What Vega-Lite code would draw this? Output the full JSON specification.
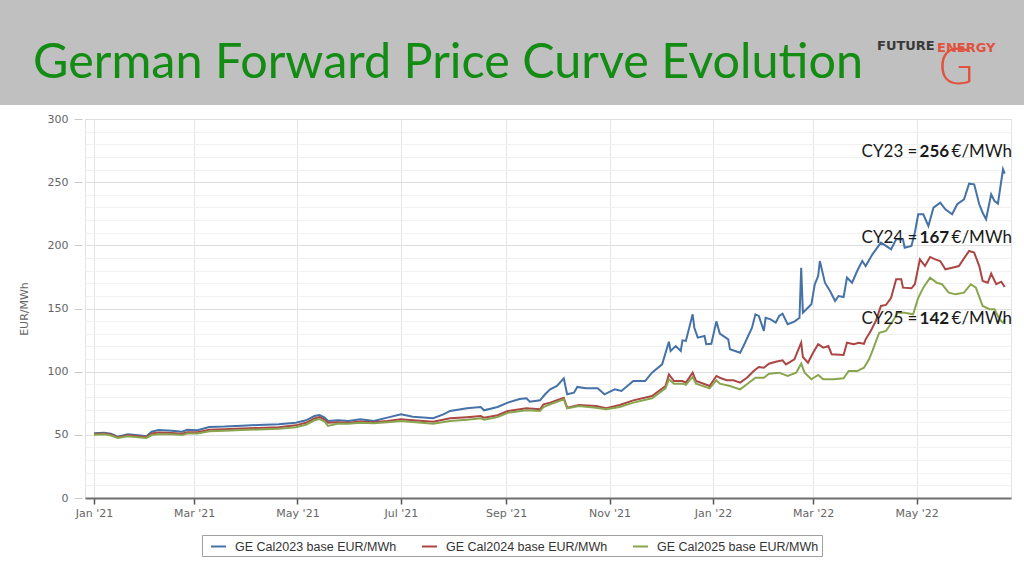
{
  "$schema": "https://vega.github.io/schema/vega-lite/v6.json",
  "background": "white",
  "padding": 0,
  "bounds": "full",
  "align": "none",
  "spacing": 7,
  "config": {"view": {"stroke": null}},
  "datasets": {
    "cal23": [
      {"d":"2021-01-01","v":51.2},{"d":"2021-01-07","v":51.7},{"d":"2021-01-11","v":50.9},{"d":"2021-01-15","v":48.5},{"d":"2021-01-21","v":50.4},{"d":"2021-01-27","v":49.6},
      {"d":"2021-02-01","v":48.8},{"d":"2021-02-04","v":52.5},{"d":"2021-02-08","v":53.8},{"d":"2021-02-16","v":53.3},{"d":"2021-02-22","v":52.5},{"d":"2021-02-25","v":54.0},
      {"d":"2021-03-03","v":53.6},{"d":"2021-03-10","v":56.2},{"d":"2021-03-19","v":56.5},{"d":"2021-03-29","v":57.2},{"d":"2021-04-08","v":57.8},{"d":"2021-04-20","v":58.3},
      {"d":"2021-04-30","v":59.6},{"d":"2021-05-06","v":61.5},{"d":"2021-05-11","v":64.9},{"d":"2021-05-14","v":65.7},{"d":"2021-05-17","v":63.6},{"d":"2021-05-19","v":61.0},
      {"d":"2021-05-25","v":61.5},{"d":"2021-05-31","v":61.0},{"d":"2021-06-07","v":62.3},{"d":"2021-06-15","v":61.0},{"d":"2021-06-23","v":63.6},{"d":"2021-07-01","v":66.2},
      {"d":"2021-07-08","v":64.4},{"d":"2021-07-20","v":63.1},{"d":"2021-07-26","v":66.2},{"d":"2021-07-30","v":68.9},{"d":"2021-08-09","v":71.0},{"d":"2021-08-17","v":72.0},
      {"d":"2021-08-19","v":69.4},{"d":"2021-08-27","v":72.0},{"d":"2021-09-02","v":75.5},{"d":"2021-09-09","v":78.4},{"d":"2021-09-13","v":78.9},{"d":"2021-09-15","v":76.2},
      {"d":"2021-09-21","v":77.3},{"d":"2021-09-24","v":82.1},{"d":"2021-09-27","v":86.0},{"d":"2021-10-01","v":88.7},{"d":"2021-10-05","v":94.7},{"d":"2021-10-07","v":82.1},
      {"d":"2021-10-11","v":83.4},{"d":"2021-10-13","v":87.9},{"d":"2021-10-18","v":86.8},{"d":"2021-10-25","v":86.8},{"d":"2021-10-29","v":82.1},{"d":"2021-11-04","v":86.0},
      {"d":"2021-11-08","v":84.7},{"d":"2021-11-15","v":92.6},{"d":"2021-11-22","v":92.6},{"d":"2021-11-26","v":99.2},{"d":"2021-12-02","v":105.8},{"d":"2021-12-06","v":123.7},
      {"d":"2021-12-07","v":116.4},{"d":"2021-12-10","v":120.3},{"d":"2021-12-13","v":116.4},{"d":"2021-12-14","v":124.8},{"d":"2021-12-16","v":124.3},{"d":"2021-12-20","v":145.4},
      {"d":"2021-12-21","v":134.8},{"d":"2021-12-23","v":126.9},{"d":"2021-12-27","v":128.2},{"d":"2021-12-28","v":121.7},{"d":"2021-12-31","v":122.1},{"d":"2022-01-03","v":139.8},
      {"d":"2022-01-05","v":130.1},{"d":"2022-01-10","v":125.6},{"d":"2022-01-11","v":117.7},{"d":"2022-01-17","v":115.0},{"d":"2022-01-19","v":120.3},{"d":"2022-01-24","v":134.8},
      {"d":"2022-01-26","v":145.4},{"d":"2022-01-28","v":144.1},{"d":"2022-01-31","v":132.2},{"d":"2022-02-01","v":142.7},{"d":"2022-02-04","v":141.4},{"d":"2022-02-07","v":138.8},
      {"d":"2022-02-09","v":144.1},{"d":"2022-02-11","v":145.9},{"d":"2022-02-14","v":137.5},{"d":"2022-02-18","v":139.6},{"d":"2022-02-21","v":142.7},{"d":"2022-02-22","v":182.3},
      {"d":"2022-02-23","v":146.7},{"d":"2022-02-28","v":153.3},{"d":"2022-03-02","v":169.2},{"d":"2022-03-04","v":175.7},{"d":"2022-03-05","v":187.6},{"d":"2022-03-08","v":170.4},
      {"d":"2022-03-11","v":163.9},{"d":"2022-03-14","v":155.9},{"d":"2022-03-16","v":159.9},{"d":"2022-03-19","v":159.1},{"d":"2022-03-21","v":174.4},{"d":"2022-03-24","v":170.4},
      {"d":"2022-03-27","v":179.7},{"d":"2022-03-30","v":187.6},{"d":"2022-04-01","v":183.6},{"d":"2022-04-05","v":192.9},{"d":"2022-04-10","v":202.1},{"d":"2022-04-13","v":199.5},
      {"d":"2022-04-16","v":196.9},{"d":"2022-04-19","v":204.8},{"d":"2022-04-23","v":204.8},{"d":"2022-04-24","v":198.1},{"d":"2022-04-28","v":199.5},{"d":"2022-04-30","v":210.0},
      {"d":"2022-05-02","v":224.6},{"d":"2022-05-05","v":224.6},{"d":"2022-05-08","v":215.3},{"d":"2022-05-11","v":229.8},{"d":"2022-05-15","v":233.8},{"d":"2022-05-18","v":228.5},
      {"d":"2022-05-22","v":224.6},{"d":"2022-05-25","v":232.5},{"d":"2022-05-29","v":236.4},{"d":"2022-06-01","v":248.8},{"d":"2022-06-04","v":248.3},{"d":"2022-06-07","v":232.5},
      {"d":"2022-06-09","v":225.8},{"d":"2022-06-11","v":220.6},{"d":"2022-06-14","v":240.4},{"d":"2022-06-16","v":235.1},{"d":"2022-06-18","v":233.0},{"d":"2022-06-21","v":260.2},
      {"d":"2022-06-22","v":256.7}
    ],
    "cal24": [
      {"d":"2021-01-01","v":50.6},{"d":"2021-01-07","v":51.0},{"d":"2021-01-11","v":50.3},{"d":"2021-01-15","v":48.0},{"d":"2021-01-21","v":49.6},{"d":"2021-01-27","v":48.8},
      {"d":"2021-02-01","v":48.2},{"d":"2021-02-04","v":51.0},{"d":"2021-02-08","v":51.8},{"d":"2021-02-16","v":51.5},{"d":"2021-02-22","v":50.8},{"d":"2021-02-25","v":52.0},
      {"d":"2021-03-03","v":52.0},{"d":"2021-03-10","v":54.0},{"d":"2021-03-19","v":54.5},{"d":"2021-03-29","v":55.0},{"d":"2021-04-08","v":55.5},{"d":"2021-04-20","v":56.0},
      {"d":"2021-04-30","v":57.5},{"d":"2021-05-06","v":59.5},{"d":"2021-05-11","v":63.0},{"d":"2021-05-14","v":64.0},{"d":"2021-05-17","v":62.0},{"d":"2021-05-19","v":59.5},
      {"d":"2021-05-25","v":60.0},{"d":"2021-05-31","v":59.5},{"d":"2021-06-07","v":60.5},{"d":"2021-06-15","v":60.0},{"d":"2021-06-23","v":61.0},{"d":"2021-07-01","v":62.3},
      {"d":"2021-07-08","v":61.5},{"d":"2021-07-20","v":60.4},{"d":"2021-07-30","v":63.1},{"d":"2021-08-09","v":64.0},{"d":"2021-08-17","v":64.9},{"d":"2021-08-19","v":63.6},
      {"d":"2021-08-27","v":65.5},{"d":"2021-09-02","v":68.9},{"d":"2021-09-13","v":71.0},{"d":"2021-09-21","v":70.2},{"d":"2021-09-23","v":74.2},{"d":"2021-09-27","v":75.5},
      {"d":"2021-10-05","v":79.4},{"d":"2021-10-07","v":71.5},{"d":"2021-10-14","v":73.6},{"d":"2021-10-24","v":72.8},{"d":"2021-10-30","v":71.0},{"d":"2021-11-07","v":73.6},
      {"d":"2021-11-15","v":77.3},{"d":"2021-11-26","v":80.7},{"d":"2021-12-04","v":88.7},{"d":"2021-12-06","v":97.9},{"d":"2021-12-09","v":92.6},{"d":"2021-12-14","v":92.6},
      {"d":"2021-12-16","v":91.3},{"d":"2021-12-20","v":99.2},{"d":"2021-12-22","v":92.6},{"d":"2021-12-30","v":88.7},{"d":"2022-01-03","v":96.6},{"d":"2022-01-05","v":95.2},
      {"d":"2022-01-09","v":93.2},{"d":"2022-01-13","v":93.2},{"d":"2022-01-17","v":91.3},{"d":"2022-01-21","v":95.2},{"d":"2022-01-25","v":100.5},{"d":"2022-01-28","v":103.7},
      {"d":"2022-01-31","v":103.1},{"d":"2022-02-03","v":106.3},{"d":"2022-02-07","v":107.9},{"d":"2022-02-11","v":109.0},{"d":"2022-02-13","v":105.8},{"d":"2022-02-18","v":109.8},
      {"d":"2022-02-20","v":116.4},{"d":"2022-02-22","v":122.9},{"d":"2022-02-23","v":111.6},{"d":"2022-02-26","v":107.1},{"d":"2022-03-01","v":115.0},{"d":"2022-03-04","v":121.7},
      {"d":"2022-03-07","v":119.0},{"d":"2022-03-10","v":120.3},{"d":"2022-03-12","v":113.7},{"d":"2022-03-19","v":113.2},{"d":"2022-03-21","v":122.9},{"d":"2022-03-25","v":121.7},
      {"d":"2022-03-28","v":122.9},{"d":"2022-03-31","v":122.1},{"d":"2022-04-01","v":125.6},{"d":"2022-04-04","v":132.2},{"d":"2022-04-07","v":140.1},{"d":"2022-04-10","v":152.0},
      {"d":"2022-04-13","v":152.8},{"d":"2022-04-16","v":158.5},{"d":"2022-04-19","v":173.1},{"d":"2022-04-22","v":173.1},{"d":"2022-04-23","v":166.5},{"d":"2022-04-28","v":166.0},
      {"d":"2022-04-30","v":169.2},{"d":"2022-05-03","v":188.9},{"d":"2022-05-06","v":183.6},{"d":"2022-05-09","v":190.8},{"d":"2022-05-12","v":188.9},{"d":"2022-05-15","v":187.6},
      {"d":"2022-05-18","v":181.0},{"d":"2022-05-22","v":182.3},{"d":"2022-05-26","v":183.6},{"d":"2022-05-29","v":189.7},{"d":"2022-06-01","v":195.5},{"d":"2022-06-04","v":194.2},
      {"d":"2022-06-07","v":183.6},{"d":"2022-06-09","v":171.8},{"d":"2022-06-12","v":170.4},{"d":"2022-06-14","v":177.6},{"d":"2022-06-17","v":169.2},{"d":"2022-06-20","v":171.2},
      {"d":"2022-06-22","v":167.0}
    ],
    "cal25": [
      {"d":"2021-01-01","v":50.0},{"d":"2021-01-07","v":50.5},{"d":"2021-01-11","v":49.5},{"d":"2021-01-15","v":47.5},{"d":"2021-01-21","v":48.8},{"d":"2021-01-27","v":48.0},
      {"d":"2021-02-01","v":47.5},{"d":"2021-02-04","v":49.8},{"d":"2021-02-08","v":50.5},{"d":"2021-02-16","v":50.5},{"d":"2021-02-22","v":49.8},{"d":"2021-02-25","v":51.0},
      {"d":"2021-03-03","v":51.0},{"d":"2021-03-10","v":52.8},{"d":"2021-03-19","v":53.2},{"d":"2021-03-29","v":53.8},{"d":"2021-04-08","v":54.2},{"d":"2021-04-20","v":54.8},
      {"d":"2021-04-30","v":56.0},{"d":"2021-05-06","v":58.0},{"d":"2021-05-11","v":61.5},{"d":"2021-05-14","v":62.5},{"d":"2021-05-17","v":60.5},{"d":"2021-05-19","v":57.0},
      {"d":"2021-05-25","v":59.0},{"d":"2021-05-31","v":58.8},{"d":"2021-06-07","v":59.5},{"d":"2021-06-15","v":59.2},{"d":"2021-06-23","v":60.0},{"d":"2021-07-01","v":61.0},
      {"d":"2021-07-08","v":60.2},{"d":"2021-07-20","v":58.8},{"d":"2021-07-30","v":61.0},{"d":"2021-08-09","v":62.0},{"d":"2021-08-17","v":63.1},{"d":"2021-08-19","v":62.0},
      {"d":"2021-08-27","v":64.0},{"d":"2021-09-02","v":67.5},{"d":"2021-09-13","v":69.5},{"d":"2021-09-21","v":68.9},{"d":"2021-09-23","v":72.0},{"d":"2021-09-27","v":74.2},
      {"d":"2021-10-05","v":78.1},{"d":"2021-10-07","v":71.0},{"d":"2021-10-14","v":72.8},{"d":"2021-10-24","v":71.5},{"d":"2021-10-30","v":70.2},{"d":"2021-11-07","v":72.0},
      {"d":"2021-11-15","v":75.5},{"d":"2021-11-26","v":78.9},{"d":"2021-12-04","v":86.8},{"d":"2021-12-06","v":94.0},{"d":"2021-12-09","v":90.5},{"d":"2021-12-14","v":90.5},
      {"d":"2021-12-16","v":89.5},{"d":"2021-12-20","v":95.8},{"d":"2021-12-22","v":90.5},{"d":"2021-12-30","v":86.8},{"d":"2022-01-03","v":93.3},{"d":"2022-01-05","v":90.5},
      {"d":"2022-01-11","v":88.7},{"d":"2022-01-17","v":86.0},{"d":"2022-01-21","v":90.0},{"d":"2022-01-26","v":95.2},{"d":"2022-01-31","v":95.2},{"d":"2022-02-03","v":98.4},
      {"d":"2022-02-09","v":99.2},{"d":"2022-02-14","v":96.6},{"d":"2022-02-19","v":99.2},{"d":"2022-02-22","v":106.3},{"d":"2022-02-24","v":99.2},{"d":"2022-02-28","v":94.0},
      {"d":"2022-03-04","v":97.4},{"d":"2022-03-07","v":94.0},{"d":"2022-03-13","v":94.0},{"d":"2022-03-19","v":94.7},{"d":"2022-03-22","v":100.5},{"d":"2022-03-27","v":100.5},
      {"d":"2022-03-31","v":103.1},{"d":"2022-04-03","v":109.8},{"d":"2022-04-05","v":116.4},{"d":"2022-04-09","v":130.8},{"d":"2022-04-13","v":132.2},{"d":"2022-04-17","v":140.1},
      {"d":"2022-04-20","v":146.7},{"d":"2022-04-24","v":146.7},{"d":"2022-04-29","v":145.4},{"d":"2022-05-02","v":158.5},{"d":"2022-05-05","v":166.5},{"d":"2022-05-09","v":174.4},
      {"d":"2022-05-13","v":170.4},{"d":"2022-05-16","v":169.2},{"d":"2022-05-20","v":162.5},{"d":"2022-05-24","v":161.2},{"d":"2022-05-29","v":162.5},{"d":"2022-06-02","v":169.2},
      {"d":"2022-06-05","v":166.5},{"d":"2022-06-09","v":152.0},{"d":"2022-06-13","v":149.4},{"d":"2022-06-16","v":149.4},{"d":"2022-06-19","v":141.4},{"d":"2022-06-21","v":138.8},
      {"d":"2022-06-22","v":141.4}
    ],
    "notes": [
      {"d":"2022-03-29","v":270,"pre":"CY23 =","num":"256","unit":"€/MWh"},
      {"d":"2022-03-29","v":202,"pre":"CY24 =","num":"167","unit":"€/MWh"},
      {"d":"2022-03-29","v":137.5,"pre":"CY25 =","num":"142","unit":"€/MWh"}
    ]
  },
  "vconcat": [
    {
      "spacing": 0,
      "bounds": "full",
      "align": "none",
      "hconcat": [
        {
          "width": 870, "height": 105,
          "view": {"fill": "#c0c0c0", "stroke": null},
          "data": {"values": []},
          "mark": "point",
          "title": {"text": "German Forward Price Curve Evolution", "orient": "top", "anchor": "start", "frame": "group", "offset": -126, "baseline": "alphabetic", "dx": 33, "font": "Lato", "fontSize": 48.5, "fontWeight": "normal", "color": "#128c12"}
        },
        {
          "width": 67, "height": 105,
          "view": {"fill": "#c0c0c0", "stroke": null},
          "data": {"values": []},
          "mark": "point",
          "title": {"text": "FUTURE", "orient": "top", "anchor": "start", "frame": "group", "offset": -62.5, "baseline": "alphabetic", "dx": 7, "font": "DejaVu Sans", "fontSize": 13, "fontWeight": "bold", "color": "#3a3a3a"}
        },
        {
          "width": 87, "height": 105,
          "view": {"fill": "#c0c0c0", "stroke": null},
          "data": {"values": []},
          "mark": "point",
          "title": {"text": "\u00a0\u00a0ENERGY", "orient": "top", "anchor": "start", "frame": "group", "offset": -104, "baseline": "alphabetic", "dx": 0, "font": "DejaVu Sans", "fontSize": 13, "fontWeight": "bold", "color": "#e0533f",
                    "subtitle": "G", "subtitleFont": "DejaVu Sans", "subtitleFontSize": 50, "subtitleFontWeight": 200, "subtitleColor": "#e0533f", "subtitlePadding": 19}
        }
      ]
    },
    {
      "spacing": 16,
      "bounds": "full",
      "align": "none",
      "hconcat": [
        {"width": 1, "height": 379, "data": {"values": []}, "mark": "point"},
        {
          "width": 926, "height": 379,
          "view": {"stroke": "#e3e3e3"},
          "resolve": {"axis": {"y": "independent"}},
          "layer": [
            {
              "data": {"name": "cal23"},
              "mark": {"type": "line", "strokeWidth": 2},
              "encoding": {
                "x": {"field": "d", "type": "temporal",
                      "scale": {"type": "utc", "domain": [{"year": 2020, "month": 12, "date": 26, "hours": 17, "utc": true}, {"year": 2022, "month": 6, "date": 25, "hours": 17, "utc": true}]},
                      "axis": {"title": null, "format": "%b '%y",
                               "values": [{"year":2021,"month":1,"date":1,"utc":true},{"year":2021,"month":3,"date":1,"utc":true},{"year":2021,"month":5,"date":1,"utc":true},{"year":2021,"month":7,"date":1,"utc":true},{"year":2021,"month":9,"date":1,"utc":true},{"year":2021,"month":11,"date":1,"utc":true},{"year":2022,"month":1,"date":1,"utc":true},{"year":2022,"month":3,"date":1,"utc":true},{"year":2022,"month":5,"date":1,"utc":true}],
                               "grid": true, "gridColor": "#e6e6e6", "domainColor": "#6e6e6e", "domainWidth": 2, "tickColor": "#555", "tickSize": 6, "tickWidth": 1.5,
                               "labelFont": "DejaVu Sans", "labelFontSize": 11, "labelColor": "#666", "labelPadding": 3, "labelFlush": false, "labelOverlap": false}},
                "y": {"field": "v", "type": "quantitative",
                      "scale": {"domain": [0, 300], "nice": false},
                      "axis": {"title": "EUR/MWh", "titleFont": "DejaVu Sans", "titleFontSize": 11, "titleFontWeight": "normal", "titleColor": "#666", "titlePadding": 18,
                               "values": [0, 50, 100, 150, 200, 250, 300], "labelOverlap": false,
                               "grid": true, "gridColor": "#dedede",
                               "domain": false, "offset": 3, "tickSize": 8, "tickColor": "#c8c8c8",
                               "labelFont": "DejaVu Sans", "labelFontSize": 11, "labelColor": "#666", "labelPadding": 6}},
                "color": {"datum": "GE Cal2023 base EUR/MWh", "type": "nominal",
                          "scale": {"domain": ["GE Cal2023 base EUR/MWh", "GE Cal2024 base EUR/MWh", "GE Cal2025 base EUR/MWh"], "range": ["#4572A7", "#AA4643", "#89A54E"]},
                          "legend": {"title": null, "orient": "none", "legendX": 202, "legendY": 535, "direction": "horizontal",
                                     "symbolType": "stroke", "symbolSize": 225, "symbolStrokeWidth": 2, "symbolOffset": 5,
                                     "labelFont": "Liberation Sans", "labelFontSize": 12.5, "labelColor": "#333", "labelLimit": 400, "labelOffset": 8,
                                     "columnPadding": 19, "padding": 3, "strokeColor": "#a0a0a0", "fillColor": "white", "cornerRadius": 0}}
              }
            },
            {
              "data": {"name": "cal24"},
              "mark": {"type": "line", "strokeWidth": 2},
              "encoding": {
                "x": {"field": "d", "type": "temporal"},
                "y": {"field": "v", "type": "quantitative",
                      "axis": {"orient": "right", "title": null, "labels": false, "ticks": false, "domain": false,
                               "values": [10,20,30,40,60,70,80,90,110,120,130,140,160,170,180,190,210,220,230,240,260,270,280,290],
                               "grid": true, "gridColor": "#f1f1f1"}},
                "color": {"datum": "GE Cal2024 base EUR/MWh", "type": "nominal"}
              }
            },
            {
              "data": {"name": "cal25"},
              "mark": {"type": "line", "strokeWidth": 2},
              "encoding": {
                "x": {"field": "d", "type": "temporal"},
                "y": {"field": "v", "type": "quantitative", "axis": null},
                "color": {"datum": "GE Cal2025 base EUR/MWh", "type": "nominal"}
              }
            },
            {
              "data": {"name": "notes"},
              "mark": {"type": "text", "align": "left", "baseline": "alphabetic", "font": "Lato", "fontSize": 17, "color": "#1a1a1a", "dx": 1},
              "encoding": {"x": {"field": "d", "type": "temporal"}, "y": {"field": "v", "type": "quantitative", "axis": null}, "text": {"field": "pre"}}
            },
            {
              "data": {"name": "notes"},
              "mark": {"type": "text", "align": "left", "baseline": "alphabetic", "font": "Lato", "fontSize": 17, "fontWeight": "bold", "color": "#1a1a1a", "dx": 59},
              "encoding": {"x": {"field": "d", "type": "temporal"}, "y": {"field": "v", "type": "quantitative", "axis": null}, "text": {"field": "num"}}
            },
            {
              "data": {"name": "notes"},
              "mark": {"type": "text", "align": "left", "baseline": "alphabetic", "font": "Lato", "fontSize": 17, "color": "#1a1a1a", "dx": 91},
              "encoding": {"x": {"field": "d", "type": "temporal"}, "y": {"field": "v", "type": "quantitative", "axis": null}, "text": {"field": "unit"}}
            }
          ]
        }
      ]
    }
  ]
}
